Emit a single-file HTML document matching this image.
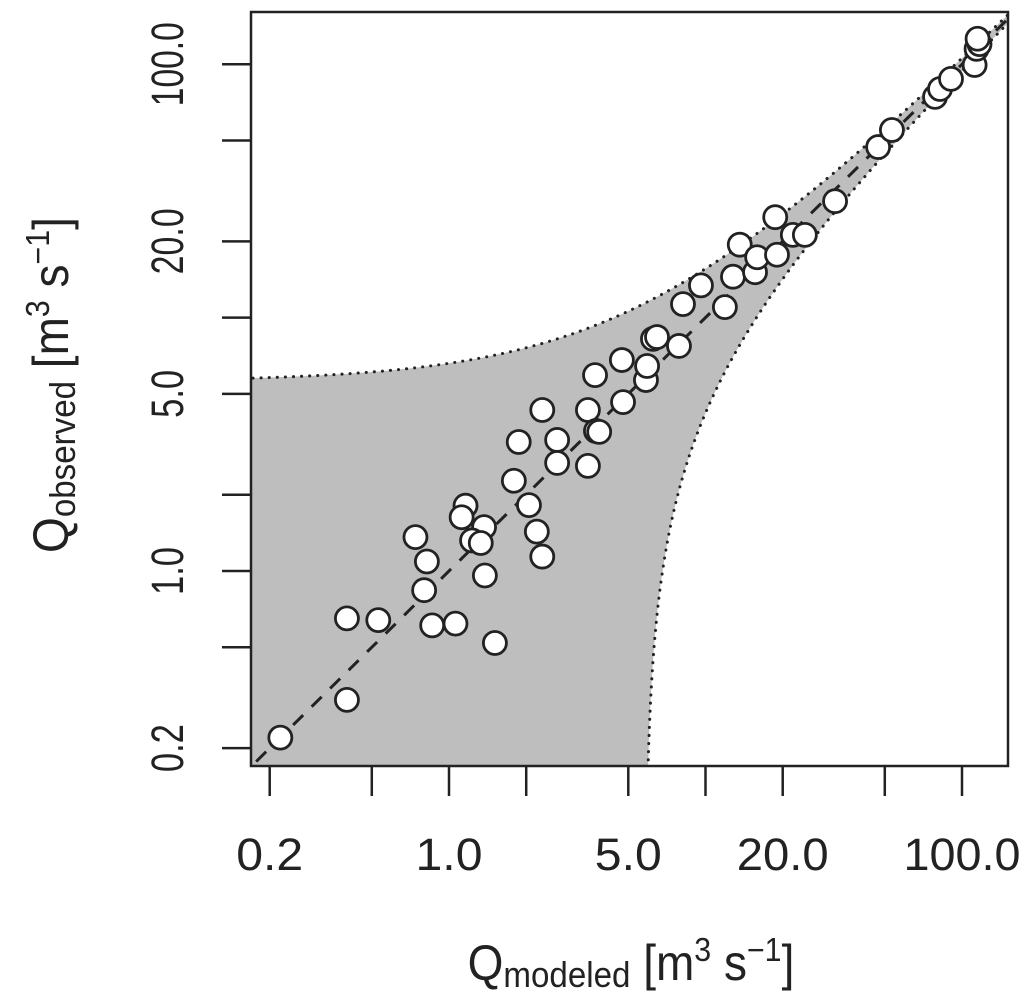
<!DOCTYPE html>
<html><head><meta charset="utf-8"><style>
html,body{margin:0;padding:0;background:#fff;}
svg{display:block;font-family:"Liberation Sans",Arial,sans-serif;}
</style></head><body>
<svg id="chart" width="1024" height="996" viewBox="0 0 1024 996">
<defs><clipPath id="pc"><rect x="251" y="12" width="757" height="754"/></clipPath></defs>
<g id="band" clip-path="url(#pc)"></g>
<g id="lines" clip-path="url(#pc)"></g>
<g id="points"></g>
<rect x="251" y="12" width="757" height="754" fill="none" stroke="#222" stroke-width="2.5"/>
<g id="xaxis"></g>
<g id="yaxis"></g>
<g transform="translate(631,980) scale(0.92,1)">
<text x="0" y="0" text-anchor="middle" font-size="50" fill="#222">Q<tspan font-size="36" dy="7">modeled</tspan><tspan dy="-7"> [m</tspan><tspan font-size="33" dy="-19">3</tspan><tspan dy="19"> s</tspan><tspan font-size="33" dy="-19">−1</tspan><tspan dy="19">]</tspan></text>
</g>
<g transform="translate(68,385) rotate(-90) scale(0.92,1)">
<text x="0" y="0" text-anchor="middle" font-size="50" fill="#222">Q<tspan font-size="36" dy="7">observed</tspan><tspan dy="-7"> [m</tspan><tspan font-size="33" dy="-19">3</tspan><tspan dy="19"> s</tspan><tspan font-size="33" dy="-19">−1</tspan><tspan dy="19">]</tspan></text>
</g>
</svg>
<script>
const modeled = [0.22,0.40,0.40,0.53,0.86,1.06,1.51,0.80,0.82,0.74,1.16,1.12,1.37,1.23,1.33,1.38,1.79,2.05,2.20,2.31,1.87,2.64,2.64,2.31,3.48,3.74,3.85,3.48,4.77,3.71,4.72,5.86,5.92,6.24,6.47,7.88,8.17,9.60,11.9,12.8,13.6,15.6,15.9,19.0,18.7,21.9,24.4,32.0,47.1,53.3,78.5,82.1,90.6,112,114,117,115];
const observed = [0.22,0.31,0.65,0.64,0.61,0.62,0.52,0.84,1.09,1.36,1.81,1.63,1.49,1.32,1.29,0.96,2.27,1.82,1.43,1.14,3.23,3.29,2.67,4.32,4.32,3.57,3.54,2.60,4.64,5.93,6.80,5.67,6.44,8.24,8.38,7.73,11.3,13.4,11.0,14.5,19.4,15.1,17.3,17.7,24.9,21.2,21.2,28.8,47.1,55.0,74.3,79.8,87.5,99.3,115,120,126];
const xTicks = [0.2,0.5,1,2,5,10,20,50,100];
const xLabels = ["0.2","","1.0","","5.0","","20.0","","100.0"];
const yTicks = [0.2,0.5,1,2,5,10,20,50,100];
const yLabels = ["0.2","","1.0","","5.0","","20.0","","100.0"];
const bandUpperOffset = 5.6;
const bandLowerOffset = 5.8;

const NS="http://www.w3.org/2000/svg";
const X = v => 449 + 256.5*Math.log10(v);
const Y = v => 571 - 253.4*Math.log10(v);
function mk(tag, attrs, parent){const e=document.createElementNS(NS,tag);for(const k in attrs)e.setAttribute(k,attrs[k]);parent.appendChild(e);return e;}

const xmin=0.16, xmax=160, ymin=0.15;
let up=[], lo=[];
for(let i=0;i<=300;i++){const m=xmin*Math.pow(xmax/xmin,i/300);up.push([X(m),Y(m+bandUpperOffset)]);}
let m0=bandLowerOffset+0.0001;
for(let i=0;i<=400;i++){const m=m0*Math.pow(xmax/m0,i/400);const o=m-bandLowerOffset;lo.push([X(m),Y(Math.max(o,ymin*0.5))]);}
const band=document.getElementById('band');
let d="M"+up.map(p=>p.join(",")).join("L");
d+="L"+lo.slice().reverse().map(p=>p.join(",")).join("L");
d+="L"+X(xmin)+","+Y(ymin*0.5)+"Z";
const bp=mk('path',{d:d,fill:"#bebebe",stroke:"none"},band);


const ul=mk('path',{d:"M"+up.map(p=>p.join(",")).join("L"),fill:"none",stroke:"#222","stroke-width":3,"stroke-dasharray":"0.1 8","stroke-linecap":"round"},band);


const ll=mk('path',{d:"M"+lo.map(p=>p.join(",")).join("L"),fill:"none",stroke:"#222","stroke-width":3,"stroke-dasharray":"0.1 8","stroke-linecap":"round"},band);



const lines=document.getElementById('lines');
const one=mk('line',{x1:X(0.15),y1:Y(0.15),x2:X(170),y2:Y(170),stroke:"#222","stroke-width":3,"stroke-dasharray":"14 12"},lines);



const pts=document.getElementById('points');
modeled.forEach((m,i)=>{
 const c=mk('circle',{cx:X(m),cy:Y(observed[i]),r:11.5,fill:"#fff",stroke:"#222","stroke-width":2.8},pts);
 
 
});

const xa=document.getElementById('xaxis');
xTicks.forEach((t,i)=>{
 const l=mk('line',{x1:X(t),x2:X(t),y1:766,y2:796,stroke:"#222","stroke-width":2.5},xa);
 
 
 if(xLabels[i]){const n=xLabels[i].length;const tl=n===3?67:(n===4?92:117);
 const tx=mk('text',{x:X(t),y:870,"text-anchor":"middle","font-size":45,fill:"#222",textLength:tl,lengthAdjust:"spacingAndGlyphs"},xa);tx.textContent=xLabels[i];
 
 }
});
const ya=document.getElementById('yaxis');
yTicks.forEach((t,i)=>{
 const l=mk('line',{x1:222,x2:251,y1:Y(t),y2:Y(t),stroke:"#222","stroke-width":2.5},ya);
 
 
 if(yLabels[i]){const n=yLabels[i].length;const tl=n===3?48:(n===4?66:84);
 const tx=mk('text',{transform:"translate(183,"+Y(t)+") rotate(-90)","text-anchor":"middle","font-size":45,fill:"#222",textLength:tl,lengthAdjust:"spacingAndGlyphs"},ya);tx.textContent=yLabels[i];
 
 }
});
</script>
</body></html>
